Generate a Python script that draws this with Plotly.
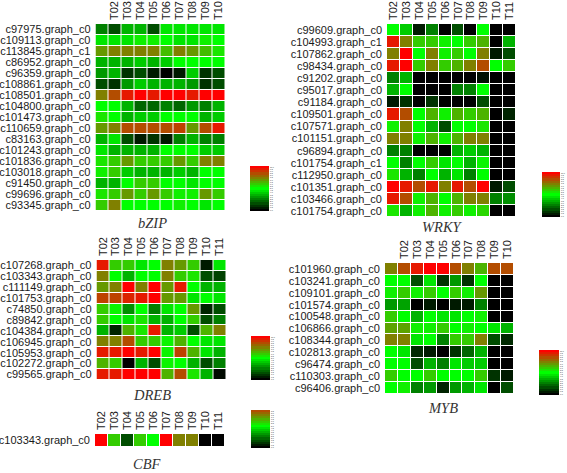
import plotly.graph_objects as go

W, H = 567, 473
times = ["T02", "T03", "T04", "T05", "T06", "T07", "T08", "T09", "T10", "T11"]
times_short = ["T02", "T03", "T04", "T05", "T06", "T07", "T08", "T09", "T10"]

bzip_genes = ["c97975.graph_c0", "c109113.graph_c0", "c113845.graph_c1", "c86952.graph_c0", "c96359.graph_c0",
              "c108861.graph_c0", "c108501.graph_c0", "c104800.graph_c0", "c101473.graph_c0", "c110659.graph_c0",
              "c83163.graph_c0", "c101243.graph_c0", "c101836.graph_c0", "c103018.graph_c0", "c91450.graph_c0",
              "c99696.graph_c0", "c93345.graph_c0"]
bzip_values = [
    [2.5, 1.5, 3.5, 3.5, 1.5, 4.5, 4.5, 4.5, 4.5, 4.5],
    [4.5, 4.5, 4.5, 5.3, 5.3, 5, 4.5, 4.5, 5.3, 5],
    [7, 7.5, 7.5, 7.5, 7.5, 6.3, 7.5, 7, 6.3, 5.5],
    [3.5, 3.5, 3.5, 4, 3.5, 4, 5, 5, 5, 5],
    [3, 3.5, 1, 1.5, 0.5, 0, 0.5, 4, 1, 1.5],
    [1.5, 1, 3, 4, 3.5, 3.5, 3.5, 3, 1, 1.5],
    [7.5, 8.5, 9.5, 10, 9.5, 10, 10, 9.5, 10, 10],
    [5, 5, 3.5, 2, 2, 2.5, 2, 3, 2.5, 3.5],
    [5.5, 5, 3.5, 4, 4, 5, 5, 5, 3.5, 4],
    [7, 7.5, 8.5, 8.5, 8.5, 8.5, 8.7, 7, 8.5, 9.5],
    [3.5, 4.5, 1.5, 0.5, 1, 0.5, 2.5, 3.5, 2.5, 2.5],
    [4.5, 3.5, 3.5, 3.5, 3.5, 5, 5, 5, 4, 4],
    [5.5, 6, 7, 6, 6, 6, 7, 6, 7.5, 7.5],
    [5.3, 6, 4, 3.5, 3.5, 3.5, 4, 3.5, 5, 5],
    [3.5, 3.5, 5, 6, 6, 5, 5, 4.5, 5, 5],
    [5.5, 6, 7, 6, 7, 6, 5.3, 5.3, 7, 6],
    [6, 7.5, 5, 5, 5, 5, 5.3, 5, 4.5, 5],
]

wrky_genes = ["c99609.graph_c0", "c104993.graph_c1", "c107862.graph_c0", "c98434.graph_c0", "c91202.graph_c0",
              "c95017.graph_c0", "c91184.graph_c0", "c109501.graph_c0", "c107571.graph_c0", "c101151.graph_c0",
              "c96894.graph_c0", "c101754.graph_c1", "c112950.graph_c0", "c101351.graph_c0", "c103466.graph_c0",
              "c101754.graph_c0"]
wrky_values = [
    [5, 4, 0.5, 2.5, 0, 1.5, 0, 5, 0, 0],
    [9.5, 7.5, 6, 6, 5.3, 5, 6, 6.5, 0, 3.5],
    [7.5, 10, 5, 7.5, 5.3, 6, 5, 7.5, 0.5, 1.5],
    [9.5, 10, 6, 7.5, 6, 6.5, 7.5, 8.5, 5, 6],
    [2.5, 3.5, 0, 0, 0, 0, 0, 0.3, 0, 0],
    [3.5, 5, 0, 0, 0, 2.5, 2.5, 5, 0, 0],
    [0.5, 1, 0, 1, 0, 0, 0, 1.5, 0, 0],
    [9.5, 8.5, 5, 6.5, 5.3, 6.5, 6, 6.5, 0, 0.7],
    [5.3, 7.5, 5, 3.5, 1.5, 5, 5, 5.5, 0, 0],
    [7.5, 7.5, 5.3, 6.5, 5.3, 6.5, 7.5, 7.5, 0, 0],
    [2.5, 2.5, 0, 0, 0, 3.5, 4, 3.5, 0, 0],
    [5, 2.5, 5, 6, 4.5, 5, 3.5, 5.2, 0, 0],
    [5.5, 3.5, 2.5, 5, 3.5, 4.5, 2.5, 5, 0, 0],
    [10, 9.5, 8.5, 9.5, 7.5, 9.5, 8.5, 10, 0.5, 1.5],
    [9.5, 8.5, 5.3, 6.5, 5, 6.5, 7.5, 7.5, 2.5, 2.8],
    [5.5, 3.5, 5.3, 6.5, 5.3, 6, 5.3, 5.8, 0, 0],
]

dreb_genes = ["c107268.graph_c0", "c103343.graph_c0", "c111149.graph_c0", "c101753.graph_c0", "c74850.graph_c0",
              "c89842.graph_c0", "c104384.graph_c0", "c106945.graph_c0", "c105953.graph_c0", "c102272.graph_c0",
              "c99565.graph_c0"]
dreb_values = [
    [9.5, 6, 6, 4.5, 5, 7.5, 7, 6, 0.5, 4.5],
    [7.5, 5, 3.5, 5, 5, 7.5, 6, 5.5, 1.5, 1.3],
    [7, 7.5, 10, 7.5, 10, 7, 9.5, 5, 3.5, 3.5],
    [8.7, 8.7, 9.3, 9.5, 10, 7, 7, 4.5, 5, 4.5],
    [6, 5.2, 2.8, 5, 2.5, 4.5, 5, 7, 0.7, 1.5],
    [6, 5, 4.5, 5.5, 3.5, 3.5, 5, 6, 1.5, 2.5],
    [3.5, 0.7, 6.5, 5.5, 9.5, 3.5, 4, 1.5, 6.5, 7.5],
    [7.5, 7.5, 8.5, 6, 6, 5.2, 6.5, 5, 4.5, 4.5],
    [9.5, 9.5, 10, 9.5, 10, 5.2, 8.7, 6.5, 4.5, 3.5],
    [6.5, 6, 0, 3.5, 1.5, 5.2, 5, 3.5, 1.5, 2.5],
    [9.5, 9.5, 10, 10, 10, 6.5, 8.5, 5.5, 3.5, 0.2],
]

cbf_genes = ["c103343.graph_c0"]
cbf_values = [[10, 6, 1.5, 6, 5, 10, 7.5, 7.5, 0, 0]]

myb_genes = ["c101960.graph_c0", "c103241.graph_c0", "c109101.graph_c0", "c101574.graph_c0", "c100548.graph_c0",
             "c106866.graph_c0", "c108344.graph_c0", "c102813.graph_c0", "c96474.graph_c0", "c110303.graph_c0",
             "c96406.graph_c0"]
myb_values = [
    [7.5, 8.5, 9.5, 10, 10, 8.5, 7.5, 6.5, 8.5, 8.5],
    [5, 5, 1.5, 4.5, 1, 3, 1, 5, 0, 0],
    [5.3, 6, 5.3, 6, 5, 6, 5.3, 7, 0, 0],
    [3, 3.2, 0, 0.5, 0, 0.5, 0.5, 2.5, 0, 0],
    [6, 5, 3.5, 5, 4.5, 4.5, 5, 5.3, 0, 0],
    [6.8, 6.8, 5.3, 5.3, 6, 5, 5.3, 5, 4.5, 3.5],
    [7.5, 7.5, 4.5, 5, 2.5, 6, 6, 7.5, 1.5, 0.8],
    [5, 4.5, 0.8, 0.5, 0, 1, 2, 3.5, 0, 0],
    [5, 5, 1.5, 3.5, 2.5, 4.5, 4, 4, 0, 0],
    [6, 5, 5, 6, 5, 5, 5, 6, 1, 0.5],
    [5, 5.3, 2.5, 3, 0.7, 3, 3.5, 4.5, 0, 1.5],
]

key_levels = [0, 0.5, 1, 1.5, 2, 2.5, 3, 3.5, 4, 4.5, 5, 5.5, 6, 6.5, 7, 7.5, 8, 8.5, 9, 9.5, 10]
cbf_key_levels = [0, 0.5, 1, 1.5, 2, 2.5, 3, 3.5, 4, 4.5, 5, 5.5, 6, 6.5, 7, 7.5, 8, 8.5]

scale = [[0, "#000000"], [0.5, "#00ff00"], [1, "#ff0000"]]

# name, genes, values, column labels, first labelled column, heat box (x0,x1,y0,y1 px), key box, key levels, title xy px
panels = [
    ("bZIP", bzip_genes, bzip_values, times_short, 1, (95.5, 225, 24, 211), (250, 269, 166, 211), key_levels, (152, 223)),
    ("WRKY", wrky_genes, wrky_values, times, 0, (387, 516, 24, 217), (542, 560, 172, 217), key_levels, (442, 227)),
    ("DREB", dreb_genes, dreb_values, times, 0, (96.5, 226, 260, 380), (251, 270, 336, 380), key_levels, (152, 395)),
    ("CBF", cbf_genes, cbf_values, times, 0, (95, 225, 434, 447), (251, 270, 410, 448), cbf_key_levels, (147, 464)),
    ("MYB", myb_genes, myb_values, times_short, 1, (385, 514, 263, 394), (539, 559, 350, 395), key_levels, (443, 408)),
]

fig = go.Figure()
layout = dict(
    width=W, height=H, autosize=False, margin=dict(l=0, r=0, t=0, b=0),
    paper_bgcolor="white", plot_bgcolor="white", showlegend=False,
    font=dict(family="Liberation Sans", color="#1a1a1a"),
)
annotations = []
n = 0
for name, genes, values, cols, first, hbox, kbox, levels, tpos in panels:
    n += 1
    xa, ya = f"x{n}", f"y{n}"
    fig.add_trace(go.Heatmap(z=values, x=list(range(10)), y=list(range(len(genes))), xaxis=xa, yaxis=ya,
                             colorscale=scale, zmin=0, zmax=10, xgap=1, ygap=1, showscale=False))
    layout[f"xaxis{n}"] = dict(domain=[hbox[0] / W, hbox[1] / W], anchor=ya, side="top", tickangle=-90,
                               tickfont=dict(size=11), ticks="", showgrid=False, zeroline=False,
                               ticklabelstandoff=3, range=[-0.5, 9.5],
                               tickmode="array", tickvals=list(range(first, first + len(cols))), ticktext=cols)
    layout[f"yaxis{n}"] = dict(domain=[1 - hbox[3] / H, 1 - hbox[2] / H], anchor=xa, autorange="reversed",
                               tickmode="array", tickvals=list(range(len(genes))), ticktext=genes,
                               tickfont=dict(size=11), ticks="", showgrid=False, zeroline=False,
                               ticklabelstandoff=4)
    n += 1
    xa, ya = f"x{n}", f"y{n}"
    fig.add_trace(go.Heatmap(z=[[v] for v in levels], y=levels, xaxis=xa, yaxis=ya,
                             colorscale=scale, zmin=0, zmax=10, showscale=False, hoverinfo="skip"))
    layout[f"xaxis{n}"] = dict(domain=[kbox[0] / W, kbox[1] / W], anchor=ya, visible=False)
    layout[f"yaxis{n}"] = dict(domain=[1 - kbox[3] / H, 1 - kbox[2] / H], anchor=xa, side="right",
                               tickmode="array", tickvals=levels, ticktext=[f"{v:.1f}" for v in levels],
                               tickfont=dict(size=2), ticks="", showgrid=False, zeroline=False)
    annotations.append(dict(text=f"<i>{name}</i>", x=tpos[0] / W, y=1 - tpos[1] / H, xref="paper", yref="paper",
                            showarrow=False, xanchor="center", yanchor="middle",
                            font=dict(family="Liberation Serif", size=14.5, color="#333333")))
layout["annotations"] = annotations
fig.update_layout(**layout)
fig.write_html("out.html", config={"displayModeBar": False}, post_script="document.body.style.margin='0';")
